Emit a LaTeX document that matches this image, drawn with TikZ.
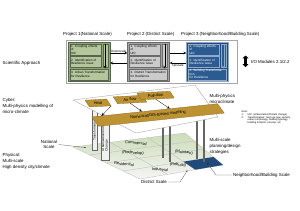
\documentclass[tikz,border=0pt]{standalone}
\usepackage{fontspec}
\setmainfont{Liberation Sans}
\usepackage{tikz}
\usepackage{xcolor}
\usetikzlibrary{calc,shapes.geometric,arrows.meta}

\definecolor{pgreen}{HTML}{8EA673}
\definecolor{pgreenl}{HTML}{B4C69C}
\definecolor{pgreend}{HTML}{56664A}
\definecolor{pgray}{HTML}{A3A3A3}
\definecolor{pgrayl}{HTML}{CBCBCB}
\definecolor{pgrayd}{HTML}{6B6B6B}
\definecolor{pblue}{HTML}{1F4A7A}
\definecolor{pbluel}{HTML}{2B5B90}
\definecolor{pblued}{HTML}{8FA9C8}
\definecolor{gold}{HTML}{BC9232}
\definecolor{goldd}{HTML}{8A6A22}
\definecolor{grnd}{HTML}{CCDDB8}

\newcommand{\bigtxt}{\fontsize{4.4}{5.8}\selectfont}
\newcommand{\midtxt}{\fontsize{4}{4.6}\selectfont}
\newcommand{\boxtxt}{\fontsize{3.1}{3.6}\selectfont}
\newcommand{\pilltxt}{\fontsize{3.2}{3.6}\selectfont}
\newcommand{\notetxt}{\fontsize{2.5}{2.8}\selectfont}

\begin{document}
\begin{tikzpicture}[x=1pt, y=-1pt, line width=0.3pt, >=stealth,
  pframe/.style={draw, minimum width=42pt, minimum height=39pt, inner sep=0},
  sub/.style={draw, minimum width=31pt, minimum height=11pt, inner sep=0.8pt, text width=29pt, align=left, font=\boxtxt},
  widesub/.style={sub, minimum width=38pt, text width=36pt},
  strip/.style={draw, minimum width=5pt, minimum height=23pt, inner sep=0},
  goldbox/.style={trapezium, trapezium left angle=120, trapezium right angle=60, fill=gold, draw=goldd, font=\midtxt, inner sep=0.5pt},
  lbl/.style={font=\bigtxt, inner sep=0, align=left},
  ground/.style={font=\midtxt, inner sep=0, rotate=-5},
  pillar/.style={draw=gray!80!black, fill=gray!12, rotate=90, inner sep=0.4pt, font=\pilltxt, align=left},
  post/.style={draw=gray!80!black, fill=gray!35},
  pointer/.style={draw=gray!70!black},
  gridline/.style={draw=gray!55}]

  \useasboundingbox (0,0) rectangle (300,210);

  % physical layer
  \coordinate (gL) at (73,147);
  \coordinate (gB) at (185,133);
  \coordinate (gR) at (223,165);
  \coordinate (gF) at (140,179);
  \shade[top color=grnd, bottom color=gray!8] (gL) -- (gB) -- (gR) -- (gF) -- cycle;
  \draw[gridline] (gL) -- (gB) -- (gR) -- (gF) -- cycle;
  \foreach \s in {0.333,0.667} \draw[gridline] ($(gL)!\s!(gB)$) -- ($(gF)!\s!(gR)$);
  \foreach \t in {0.25,0.5,0.75} \draw[gridline] ($(gL)!\t!(gF)$) -- ($(gB)!\t!(gR)$);
  \coordinate (ta) at ($(gL)!0.75!(gF)$);
  \coordinate (tb) at ($(gB)!0.75!(gR)$);
  \fill[pblue] ($(ta)!0.667!(tb)$) -- (tb) -- (gR) -- ($(gF)!0.667!(gR)$) -- cycle;

  \node[ground] (com) at (136,143) {Commercial};
  \node[ground] (redev) at (133,153) {(Redevelop)};
  \node[ground] (res) at (124,164) {Residential};
  \node[ground] (ind) at (160,169.5) {Industrial};
  \node[ground] (rebuild) at (178,165) {(Rebuild)};
  \node[ground] (maint) at (184,152.5) {(Maintain)};

  \node[pillar, minimum width=40pt, minimum height=5pt] (trans) at (94.5,130) {Transformation};
  \node[pillar, minimum width=47pt, minimum height=8pt] (urb) at (105,136.5) {Urbanization/Climate\\Change};
  \foreach \px/\pt/\pb in {162/124/157, 169/123/161, 196/118/158, 203/117/161}
    \draw[post] (\px,\pt) rectangle (\px+1.6,\pb);

  % cyber layer
  \coordinate (cL) at (73,100);
  \coordinate (cB) at (195,85);
  \coordinate (cR) at (218,117);
  \coordinate (cF) at (136,133);
  \filldraw[fill=white, draw=gray!80] (cL) -- (cB) -- (cR) -- (cF) -- cycle;

  \node[goldbox, minimum width=24pt, minimum height=7pt, rotate=3] (heat) at (98,103) {Heat};
  \node[goldbox, minimum width=25pt, minimum height=7pt, rotate=3] (air) at (130,99.5) {Air flow};
  \node[goldbox, minimum width=26pt, minimum height=7pt, rotate=3] (pol) at (155.5,95.5) {Pollution};
  \node[goldbox, minimum width=88pt, minimum height=10pt, rotate=6] (num) at (158,115) {Numerical/GIS-Based modeling};
  \draw[->] (heat.bottom right corner) -- ($(num.top left corner)!0.08!(num.top right corner)$);
  \draw[->] (air.south) -- ($(num.top left corner)!0.4!(num.top right corner)$);
  \draw[->] (pol.south) -- ($(num.top left corner)!0.62!(num.top right corner)$);

  % scientific approach
  \node[draw=gray!70, fill=white, minimum width=171pt, minimum height=43pt] (frame) at (151.5,61.5) {};

  \node[pframe, fill=pgreen, draw=pgreend] (p1) at (89,61.5) {};
  \node[sub, fill=pgreenl, draw=pgreend] (p1a) at (85.5,49.5) {1. Coupling effects of\\UIC};
  \node[sub, fill=pgreenl, draw=pgreend] (p1b) at (85.5,61.7) {2. Identification of\\Resilience issue};
  \node[widesub, fill=pgreenl, draw=pgreend] (p1c) at (89,74.2) {3. Urban Transformation\\for Resilience};
  \node[strip, fill=pgreenl, draw=pgreend] (p1s) at (105.2,55.5) {};
  \draw[->] (p1s.north) -- (p1s.north |- p1c.north);

  \node[pframe, fill=pgray, draw=pgrayd] (p2) at (148.5,61.5) {};
  \node[sub, fill=pgrayl, draw=pgrayd] (p2a) at (145,49.5) {1. Coupling effects of\\UIC};
  \node[sub, fill=pgrayl, draw=pgrayd] (p2b) at (145,61.7) {2. Identification of\\Resilience issue};
  \node[widesub, fill=pgrayl, draw=pgrayd] (p2c) at (148.5,74.2) {3. District Transformation\\for Resilience};
  \node[strip, fill=pgrayl, draw=pgrayd] (p2s) at (164.7,55.5) {};
  \draw[->] (p2s.north) -- (p2s.north |- p2c.north);

  \node[pframe, fill=pblue, draw=pblued] (p3) at (207.5,61.5) {};
  \node[sub, fill=pbluel, draw=pblued, text=white] (p3a) at (204,49.5) {1. Coupling effects of\\UIC};
  \node[sub, fill=pbluel, draw=pblued, text=white] (p3b) at (204,61.7) {2. Identification of\\Resilience issue};
  \node[widesub, fill=pbluel, draw=pblued, text=white] (p3c) at (207.5,74.2) {3. Building Transformation\\for Resilience};
  \node[strip, fill=pbluel, draw=pblued] (p3s) at (223.7,55.5) {};
  \draw[->, pblued] (p3s.north) -- (p3s.north |- p3c.north);

  \draw[->] ([yshift=8.5pt]p1.east) -- ([yshift=8.5pt]p2.west) node[midway, above=-0.4pt, font=\boxtxt, inner sep=0.3pt] {Downscale};
  \draw[->] ([yshift=-1.5pt]p2.west) -- ([yshift=-1.5pt]p1.east);
  \draw[->] ([yshift=8.5pt]p2.east) -- ([yshift=8.5pt]p3.west);
  \draw[->] ([yshift=-1.5pt]p3.west) -- ([yshift=-1.5pt]p2.east) node[midway, below, font=\boxtxt, inner sep=0.6pt] {Upscale};

  \node[lbl, anchor=west] (t1) at (63,34.5) {Project 1(National Scale)};
  \node[lbl, anchor=west] (t2) at (127,34.5) {Project 2 (District Scale)};
  \node[lbl, anchor=west] (t3) at (181,34.5) {Project 3 (Neighborhood/Building Scale)};

  \coordinate (iotop) at (245.5,55.5);
  \coordinate (iobot) at (245.5,67);
  \draw[line width=2.4pt, {Triangle[length=2.8pt,width=5.5pt]}-{Triangle[length=2.8pt,width=5.5pt]}] (iotop) -- (iobot);
  \node[lbl, anchor=west] (io) at (251,61.5) {I/O Modules 2.1/2.2};

  % side labels
  \node[lbl, anchor=west] (sci) at (2.5,63) {Scientific Approach};
  \node[lbl, anchor=north west] (cyb) at (2.5,98.4) {Cyber:\\Multi-physics modelling of\\micro-climate};
  \node[lbl, anchor=north west] (phy) at (2.5,153.4) {Physical:\\Multi-scale\\High density city/climate};
  \node[lbl, anchor=north west] (mpm) at (209.5,94.4) {Multi-physics\\microclimate};
  \node[lbl, anchor=north west] (msp) at (209.5,138.4) {Multi-scale\\planning/design\\strategies};
  \node[lbl, anchor=north west, font=\notetxt] (note) at (241.5,110.6) {Note:\\\makebox[6pt][l]{1.}UIC: (Urbanization/Climate change)\\\makebox[6pt][l]{2.}Transformation: land use type, density,\\\hspace*{6pt}urban morphology, building typology,\\\hspace*{6pt}building footprint, envelop, etc};

  % scale pointers
  \node[lbl, align=center] (natl) at (49,144.5) {National\\Scale};
  \coordinate (natdot) at (85,147.5);
  \draw[pointer] ([xshift=1.5pt]natl.east) -- (natdot);
  \fill (natdot) circle (0.6);

  \node[lbl] (distl) at (154,182) {District Scale};
  \coordinate (distbend) at (180,182);
  \coordinate (distdot) at (187,171);
  \draw[pointer] ([xshift=1.5pt]distl.east) -- (distbend) -- (distdot);
  \fill (distdot) circle (0.6);

  \node[lbl, anchor=west] (nbl) at (233,175) {Neighborhood/Building Scale};
  \coordinate (nbbend) at (216,175);
  \coordinate (nbdot) at (208,164);
  \draw[pointer] ([xshift=-1.5pt]nbl.west) -- (nbbend) -- (nbdot);
  \fill (nbdot) circle (0.6);
\end{tikzpicture}
\end{document}
